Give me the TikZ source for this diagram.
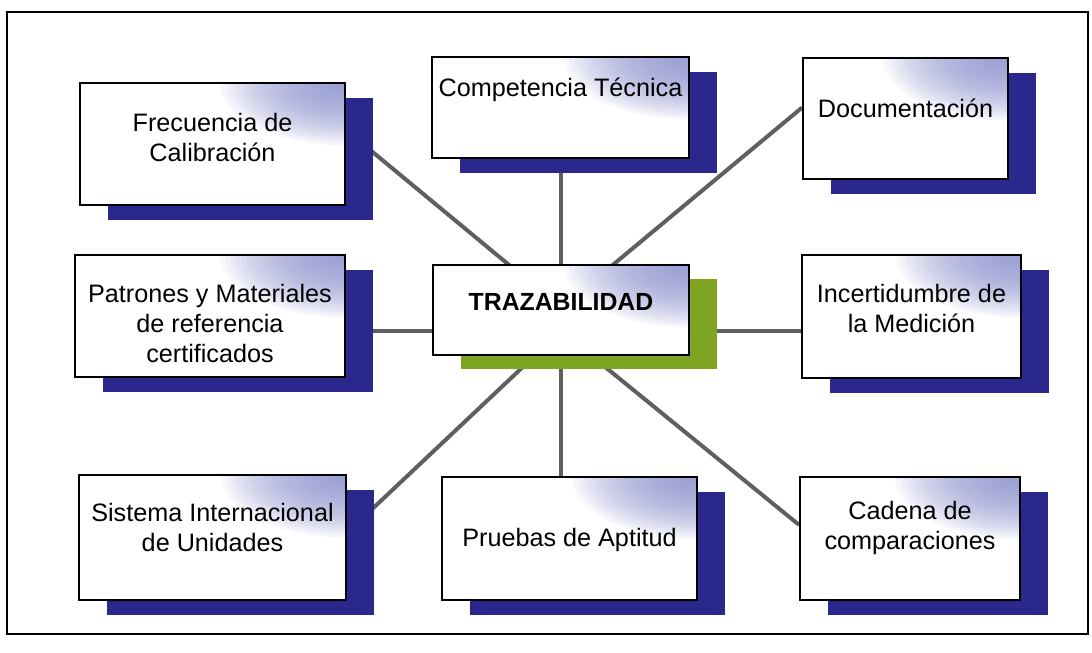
\documentclass[tikz,border=0pt]{standalone}
\usepackage{fontspec}
\setmainfont{Liberation Sans}
\usetikzlibrary{shadows,positioning,backgrounds}

\definecolor{navyshadow}{RGB}{42,40,140}
\definecolor{trazgreen}{RGB}{125,165,35}
\definecolor{cornerblue}{RGB}{140,146,208}
\definecolor{linkgray}{RGB}{95,95,95}

\tikzset{
panel/.style 2 args={draw=black, line width=1pt, fill=white, inner sep=0pt,
  minimum width=#1, minimum height=#2,
  path picture={\foreach \k in {1,...,24}
    \fill[cornerblue, fill opacity=0.07]
      (path picture bounding box.north east) ellipse ({2.6pt*\k} and {1.3pt*\k});}},
navy shadow/.style={general shadow={fill=navyshadow,
  shadow xshift=14pt, shadow yshift=-7.5pt}},
green shadow/.style={general shadow={fill=trazgreen,
  shadow xshift=14pt, shadow yshift=-7pt}},
caption/.style={anchor=north, align=center, inner sep=0pt,
  font=\fontsize{12.6pt}{15pt}\selectfont},
link/.style={draw=linkgray, line width=2pt}
}

\begin{document}
\begin{tikzpicture}[x=0.5pt,y=-0.5pt]
\useasboundingbox (0,0) rectangle (1092,653);
\draw[line width=1pt] (7,12) rectangle (1088,634);

\node[panel={132.5pt}{61pt}, navy shadow] (frec) at (212.5,144) {};
\node[caption, below=15.5pt of frec.north] (frectext) {Frecuencia de\\Calibración};

\node[panel={128.5pt}{50.5pt}, navy shadow] (comp) at (560.5,107.5) {};
\node[caption, below=11pt of comp.north] (comptext) {Competencia Técnica};

\node[panel={102.5pt}{60.5pt}, navy shadow] (docu) at (905.5,118.5) {};
\node[caption, below=21pt of docu.north] (docutext) {Documentación};

\node[panel={135pt}{61pt}, navy shadow] (patr) at (210,316) {};
\node[caption, below=15pt of patr.north] (patrtext) {Patrones y Materiales\\de referencia\\certificados};

\node[panel={128pt}{45pt}, green shadow] (traz) at (561,310) {};
\node[caption, below=14.5pt of traz.north, font=\fontsize{12.4pt}{15pt}\selectfont\bfseries] (traztext) {TRAZABILIDAD};

\node[panel={109.5pt}{61.5pt}, navy shadow] (inc) at (911.5,316.5) {};
\node[caption, below=15pt of inc.north] (inctext) {Incertidumbre de\\la Medición};

\node[panel={133.5pt}{62.5pt}, navy shadow] (sist) at (212.5,537.5) {};
\node[caption, below=14.5pt of sist.north] (sisttext) {Sistema Internacional\\de Unidades};

\node[panel={127.5pt}{61.5pt}, navy shadow] (prue) at (569.5,538.5) {};
\node[caption, below=26pt of prue.north] (pruetext) {Pruebas de Aptitud};

\node[panel={110pt}{61.5pt}, navy shadow] (cad) at (910,538.5) {};
\node[caption, below=12.5pt of cad.north] (cadtext) {Cadena de\\comparaciones};

\coordinate (hubN) at (561,308);
\coordinate (hubS) at (561,331);

\begin{scope}[on background layer]
\draw[link] (frec.6) -- (hubN);
\draw[link] (hubN |- comp.south) -- (hubN);
\draw[link] (docu.174) -- (hubN);
\draw[link] (hubS -| patr.east) -- (hubS);
\draw[link] (hubS -| inc.west) -- (hubS);
\draw[link] (sist.2) -- (hubS);
\draw[link] (hubS |- prue.north) -- (hubS);
\draw[link] (cad.173) -- (hubS);
\end{scope}
\end{tikzpicture}
\end{document}
